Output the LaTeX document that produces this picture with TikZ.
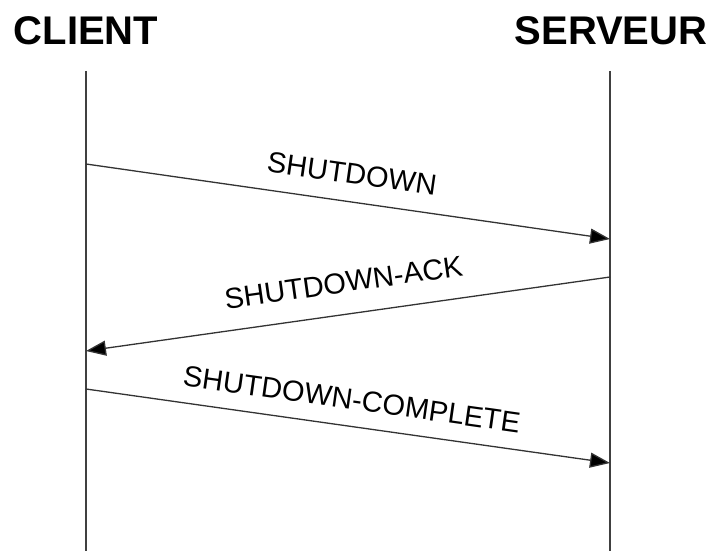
\documentclass[tikz,border=0pt]{standalone}
\usepackage{fontspec}
\setmainfont{Liberation Sans}
\usepackage{tikz}
\usetikzlibrary{arrows.meta,positioning}

\begin{document}
\begin{tikzpicture}[
  x=1pt, y=-1pt,
  title/.style={font=\fontsize{40}{40}\selectfont\bfseries, anchor=base, inner sep=0pt},
  lifeline/.style={line width=1.5pt, draw=black!75},
  msg/.style={-{Triangle[length=20pt,width=15pt,fill=black]}, line width=1.3pt, draw=black!80},
  lbl/.style={font=\fontsize{29}{29}\selectfont, midway, sloped, inner sep=0pt, above=#1},
  lbl/.default=17pt
]
\useasboundingbox (0,0) rectangle (713,551);

\node[title] (client) at (86,45) {CLIENT};
\node[title] (serveur) at (611,45) {SERVEUR};

% lifelines
\coordinate (ctop) at (86,71);
\coordinate (cbot) at (86,551);
\coordinate (stop) at (610,71);
\coordinate (sbot) at (610,551);
\draw[lifeline] (ctop) -- (cbot);
\draw[lifeline] (stop) -- (sbot);

% message ends
\coordinate (c1) at (86,164);
\coordinate (s1) at (610,239);
\coordinate (s2) at (610,277);
\coordinate (c2) at (86,351);
\coordinate (c3) at (86,389);
\coordinate (s3) at (610,463);

\draw[msg] (c1) -- node[lbl] (shut) {SHUTDOWN} (s1);
\draw[msg] (s2) -- node[lbl=21pt] (ack) {SHUTDOWN-ACK} (c2);
\draw[msg] (c3) -- node[lbl=16pt] (compl) {SHUTDOWN-COMPLETE} (s3);
\end{tikzpicture}
\end{document}
